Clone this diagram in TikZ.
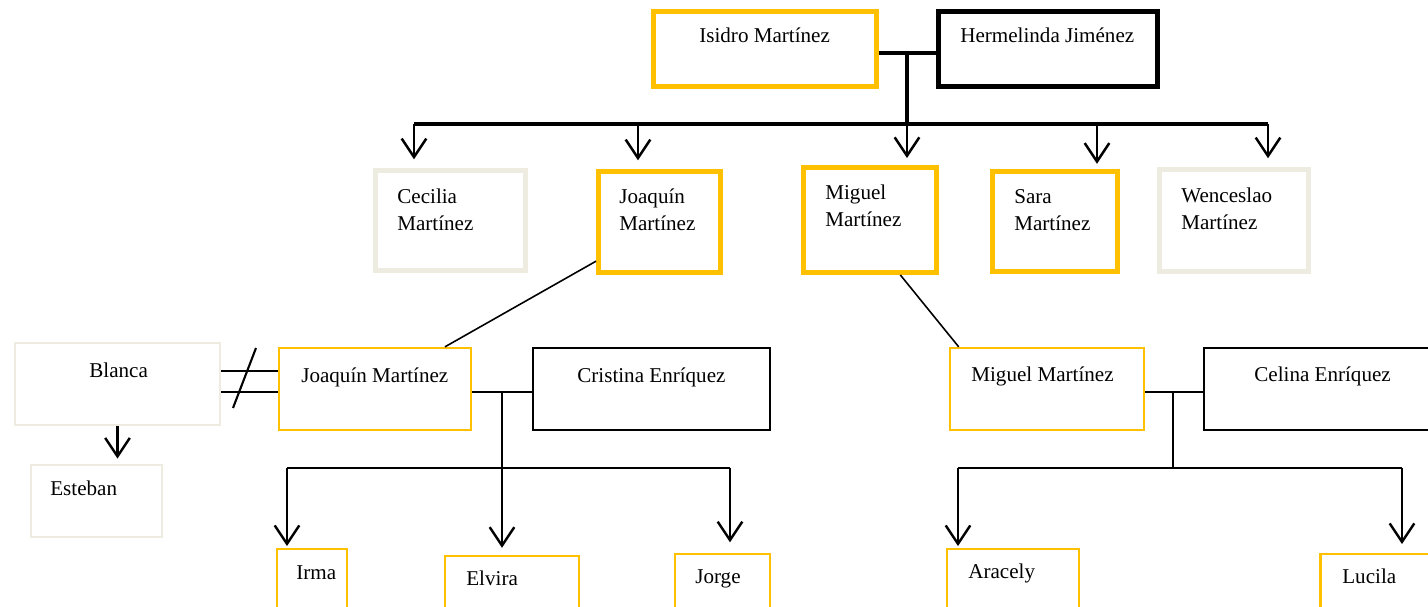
\documentclass[tikz,border=0pt]{standalone}
\usepackage{fontspec}
\setmainfont{Liberation Serif}
\usetikzlibrary{arrows.meta,calc,positioning}
\definecolor{gold}{RGB}{255,192,0}
\definecolor{beige}{RGB}{238,236,225}
\tikzset
{
    person/.style    = {rectangle, inner sep=0pt},
    boxh/.style      = {minimum height=#1},
    bigbox/.style    = {person, line width=2.8pt},
    smallbox/.style  = {person, line width=1.3pt},
    goldnode/.style  = {draw=gold},
    beigenode/.style = {draw=beige},
    blacknode/.style = {draw=black},
    nametext/.style  = {font=\fontsize{12}{15.3}\selectfont, inner sep=0pt, anchor=base west, align=left},
    twolines/.style  = {nametext, anchor=north west},
    kid/.style       = {-{Straight Barb[length=10.5pt,width=14pt]}, line width=1.4pt, shorten >=#1},
    kid/.default     = 3pt,
    link/.style      = {line width=1.2pt}
}

\begin{document}
\begin{tikzpicture}[x=0.02cm, y=-0.02cm]
\useasboundingbox (0,0) rectangle (1428,607);

\node (isidro)[bigbox, goldnode, minimum width=4.46cm, boxh=1.5cm]        at (765,49)     {};
\node (hermelinda)[bigbox, blacknode, minimum width=4.38cm, boxh=1.5cm]   at (1048,49)    {};
\node (cecilia)[bigbox, beigenode, minimum width=3.0cm, boxh=2.0cm]       at (450.5,220.5) {};
\node (joaquin)[bigbox, goldnode, minimum width=2.44cm, boxh=2.02cm]      at (659.5,222)  {};
\node (miguel)[bigbox, goldnode, minimum width=2.66cm, boxh=2.1cm]        at (870,220)    {};
\node (sara)[bigbox, goldnode, minimum width=2.5cm, boxh=2.0cm]           at (1055,221.5) {};
\node (wenceslao)[bigbox, beigenode, minimum width=2.98cm, boxh=2.04cm]   at (1234,220.5) {};

\node (blanca)[smallbox, beigenode, minimum width=4.1cm, boxh=1.64cm]     at (117.5,384)  {};
\node (joaquin2)[smallbox, goldnode, minimum width=3.84cm, boxh=1.64cm]   at (375,389)    {};
\node (cristina)[smallbox, blacknode, minimum width=4.74cm, boxh=1.64cm]  at (651.5,389)  {};
\node (miguel2)[smallbox, goldnode, minimum width=3.88cm, boxh=1.64cm]    at (1047,389)   {};
\node (celina)[smallbox, blacknode, minimum width=4.72cm, boxh=1.64cm]    at (1322,389)   {};
\node (esteban)[smallbox, beigenode, minimum width=2.62cm, boxh=1.44cm]   at (96.5,501)   {};

\node (irma)[smallbox, goldnode, minimum width=1.4cm, boxh=1.6cm]         at (312,589)    {};
\node (elvira)[smallbox, goldnode, minimum width=2.68cm, boxh=1.6cm]      at (512,596)    {};
\node (jorge)[smallbox, goldnode, minimum width=1.9cm, boxh=1.6cm]        at (722.5,594)  {};
\node (aracely)[smallbox, goldnode, minimum width=2.64cm, boxh=1.6cm]     at (1013,589)   {};
\node (lucila)[smallbox, goldnode, minimum width=2.38cm, boxh=1.6cm]      at (1380,594)   {};

\node (isidro-t)[nametext]      at (699,43)     {Isidro Martínez};
\node (hermelinda-t)[nametext]  at (960,43)     {Hermelinda Jiménez};
\node (cecilia-t)[twolines]     at (397,188.5)  {Cecilia\\Martínez};
\node (joaquin-t)[twolines]     at (619,188.5)  {Joaquín\\Martínez};
\node (miguel-t)[twolines]      at (825,184.5)  {Miguel\\Martínez};
\node (sara-t)[twolines]        at (1014,189.5) {Sara\\Martínez};
\node (wenceslao-t)[twolines]   at (1181,187.5) {Wenceslao\\Martínez};
\node (blanca-t)[nametext]      at (89,378)     {Blanca};
\node (joaquin2-t)[nametext]    at (301,383)    {Joaquín Martínez};
\node (cristina-t)[nametext]    at (577,383)    {Cristina Enríquez};
\node (miguel2-t)[nametext]     at (971,382)    {Miguel Martínez};
\node (celina-t)[nametext]      at (1254,382)   {Celina Enríquez};
\node (esteban-t)[nametext]     at (50,496)     {Esteban};
\node (irma-t)[nametext]        at (296,580)    {Irma};
\node (elvira-t)[nametext]      at (466,586)    {Elvira};
\node (jorge-t)[nametext]       at (695,584)    {Jorge};
\node (aracely-t)[nametext]     at (968,579)    {Aracely};
\node (lucila-t)[nametext]      at (1342,584)   {Lucila};

\coordinate (tc) at (907,53);
\coordinate (tb) at (907,124);
\coordinate (d1) at (414,124);
\coordinate (d2) at (638,124);
\coordinate (d3) at (907,124);
\coordinate (d4) at (1097,124);
\coordinate (d5) at (1268,124);

\draw[line width=2.3pt] (isidro.east |- tc) -- (hermelinda.west |- tc);
\draw[line width=1.8pt] (tc) -- (tb);
\draw[line width=2.6pt] (d1) -- (d5);
\draw[kid=5pt] (d1) -- (d1 |- cecilia.north);
\draw[kid=5pt] (d2) -- (d2 |- joaquin.north);
\draw[kid=4pt] (d3) -- (d3 |- miguel.north);
\draw[kid=3pt] (d4) -- (d4 |- sara.north);
\draw[kid=5pt] (d5) -- (d5 |- wenceslao.north);

\draw[link, line width=0.9pt] ($(joaquin.south west)!.13!(joaquin.north west)$) -- ($(joaquin2.north west)!.86!(joaquin2.north east)$);
\draw[link, line width=0.9pt] ($(miguel.south west)!.72!(miguel.south east)$) -- ($(miguel2.north west)!.05!(miguel2.north east)$);

\draw[link] ([yshift=7.4pt]blanca.east) -- ([yshift=7.4pt]blanca.east -| joaquin2.west);
\draw[link] ([yshift=-4.5pt]blanca.east) -- ([yshift=-4.5pt]blanca.east -| joaquin2.west);
\draw[link] (256,348) -- (233,408);
\draw[kid] (blanca.south) -- (blanca.south |- esteban.north);

\coordinate (jc) at (502,392);
\coordinate (jl) at (287,468);
\coordinate (jr) at (730,468);
\draw[link] (joaquin2.east |- jc) -- (cristina.west |- jc);
\draw[kid=4pt] (jc) -- (jc |- elvira.north);
\draw[link, line width=1.4pt] (jl) -- (jr);
\draw[kid=1pt] (jl) -- (jl |- irma.north);
\draw[kid=6pt] (jr) -- (jr |- jorge.north);

\coordinate (mc) at (1173,392);
\coordinate (mb) at (1173,468);
\coordinate (ml) at (958,468);
\coordinate (mr) at (1402,468);
\draw[link] (miguel2.east |- mc) -- (celina.west |- mc);
\draw[link] (mc) -- (mb);
\draw[link, line width=1.4pt] (ml) -- (mr);
\draw[kid=1pt] (ml) -- (ml |- aracely.north);
\draw[kid=5pt] (mr) -- (mr |- lucila.north);

\end{tikzpicture}
\end{document}
